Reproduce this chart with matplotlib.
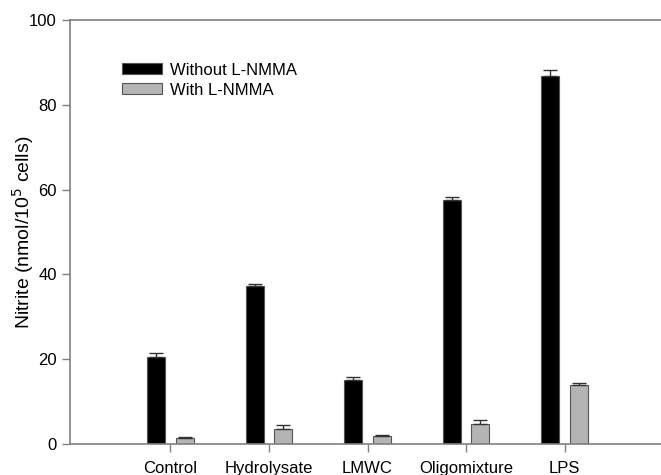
import numpy as np
import matplotlib.pyplot as plt

plt.rcParams['font.family'] = ['Liberation Sans', 'DejaVu Sans']

treatments = ['Control', 'Hydrolysate', 'LMWC', 'Oligomixture', 'LPS']
without_nmma = [20.5, 37.3, 15.0, 57.5, 86.8]
without_err = [1.0, 0.4, 0.7, 0.8, 1.4]
with_nmma = [1.4, 3.5, 1.8, 4.7, 13.8]
with_err = [0.2, 0.9, 0.4, 0.9, 0.7]

fig = plt.figure(figsize=(6.61, 4.75), dpi=100)
ax = fig.add_axes([70 / 661, 31 / 475, 595 / 661, 424 / 475])

x = np.arange(len(treatments))
w = 0.18
spine_col = '#808080'

ax.bar(x - 0.145, without_nmma, w, color='black', edgecolor='#555555',
       linewidth=0.8, label='Without L-NMMA',
       yerr=[np.zeros(5), without_err],
       error_kw=dict(ecolor='#333333', elinewidth=1.0, capsize=5, capthick=1.0))
ax.bar(x + 0.145, with_nmma, w, color='#b4b4b4', edgecolor='#555555',
       linewidth=0.8, label='With L-NMMA',
       yerr=[np.zeros(5), with_err],
       error_kw=dict(ecolor='#333333', elinewidth=1.0, capsize=5, capthick=1.0))

ax.set_xlim(-1.02, 5.02)
ax.set_ylim(0, 100)
ax.set_yticks([0, 20, 40, 60, 80, 100])
ax.set_xticks(x)
ax.set_xticklabels(treatments, fontsize=12)
ax.tick_params(axis='y', labelsize=12, length=6, color=spine_col, width=1)
ax.tick_params(axis='x', length=6, color=spine_col, width=1, pad=6)

ax.spines['right'].set_visible(False)
for s in ['left', 'top', 'bottom']:
    ax.spines[s].set_color(spine_col)
    ax.spines[s].set_linewidth(1.2)

ax.set_ylabel('Nitrite (nmol/10$^5$ cells)', fontsize=14)
ax.yaxis.set_label_coords(-0.057, 0.5)

ax.legend(loc='upper left', bbox_to_anchor=(0.063, 0.935), frameon=False,
          fontsize=12, handlelength=2.35, handleheight=0.66,
          labelspacing=0.3, handletextpad=0.5)

fig.savefig('out.png', dpi=100)
